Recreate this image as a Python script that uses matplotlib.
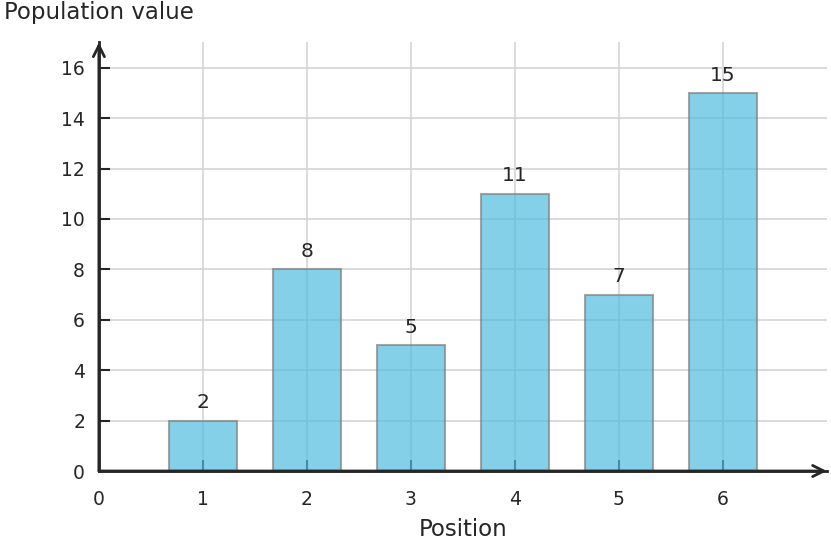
import numpy as np
import matplotlib.pyplot as plt

# ===== 数据 =====
positions = [1, 2, 3, 4, 5, 6]
values = [2, 8, 5, 11, 7, 15]
x_ticks = [0, 1, 2, 3, 4, 5, 6]
y_ticks = [0, 2, 4, 6, 8, 10, 12, 14, 16]

plt.rcParams['font.family'] = ['DejaVu Sans']

fig = plt.figure(figsize=(8.31, 5.48), dpi=100)
ax = fig.add_axes([0.119, 0.1405, 0.876, 0.782])

ax.bar(positions, values, width=0.65, color='#51bce0', alpha=0.7,
       edgecolor='#808080', linewidth=1.5, zorder=3)

# 数值标签
for p, v in zip(positions, values):
    ax.annotate(str(v), (p, v), xytext=(0, 6), textcoords='offset points',
                ha='center', va='bottom', fontsize=14.5, color='#262626', zorder=5)

ax.set_xlim(0, 7)
ax.set_ylim(0, 17)
ax.set_xticks(x_ticks)
ax.set_yticks(y_ticks)
ax.grid(True, color='#d4d4d4', linewidth=1.2, zorder=0)
ax.set_axisbelow(True)

for s in ['top', 'right']:
    ax.spines[s].set_visible(False)
for s in ['left', 'bottom']:
    ax.spines[s].set_linewidth(2)
    ax.spines[s].set_color('#262626')

ax.tick_params(axis='both', direction='in', length=8, width=1.5,
               color='#262626', labelsize=13.5, labelcolor='#262626')
ax.tick_params(axis='x', pad=14)
ax.tick_params(axis='y', pad=10)

# 箭头
ax.annotate('', xy=(1.0, 0), xytext=(0, 0), xycoords='axes fraction',
            arrowprops=dict(arrowstyle='->', color='#262626', lw=2,
                            mutation_scale=20, shrinkA=0, shrinkB=0),
            annotation_clip=False)
ax.annotate('', xy=(0, 1.0), xytext=(0, 0), xycoords='axes fraction',
            arrowprops=dict(arrowstyle='->', color='#262626', lw=2,
                            mutation_scale=20, shrinkA=0, shrinkB=0),
            annotation_clip=False)

ax.set_xlabel('Position', fontsize=16.5, color='#262626', labelpad=6)
fig.text(0.005, 0.977, 'Population value', fontsize=16.5, color='#262626',
         ha='left', va='center')

plt.savefig('out.png', dpi=100)
